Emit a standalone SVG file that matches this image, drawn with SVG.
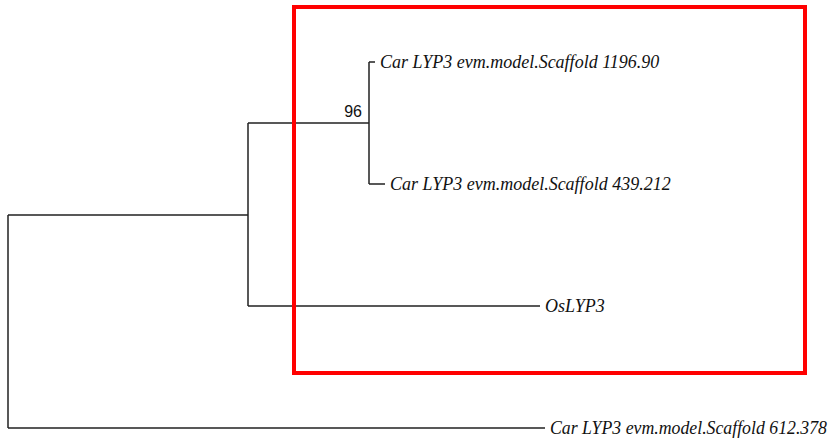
<svg xmlns="http://www.w3.org/2000/svg" width="830" height="440" viewBox="0 0 830 440">
<style>
.br{fill:none;stroke:#222;stroke-width:1.5}
.lf{font-family:"Liberation Serif","Times New Roman",serif;font-style:italic;font-size:18px;fill:#111}
.bs{font-family:"Liberation Sans",Arial,sans-serif;font-size:16px;fill:#111}
</style>
<rect x="0" y="0" width="830" height="440" fill="#fff"/>
<g id="connectors">
<path class="br" d="M8,215 V428 M8,215 H248 M8,428 H545"/>
<path class="br" d="M248,123 V306 M248,123 H369 M248,306 H540"/>
<path class="br" d="M369,62 V184 M369,62 H375 M369,184 H385"/>
</g>
<g id="node-96"><text class="bs" x="362" y="117" text-anchor="end">96</text></g>
<g id="leaf-1196"><text class="lf" x="380" y="68">Car LYP3 evm.model.Scaffold 1196.90</text></g>
<g id="leaf-439"><text class="lf" x="390" y="190">Car LYP3 evm.model.Scaffold 439.212</text></g>
<g id="leaf-os"><text class="lf" x="545" y="312">OsLYP3</text></g>
<g id="leaf-612"><text class="lf" x="550" y="434" textLength="277" lengthAdjust="spacingAndGlyphs">Car LYP3 evm.model.Scaffold 612.378</text></g>
<g id="highlight"><rect x="294" y="7" width="511" height="366" fill="none" stroke="#f00" stroke-width="4"/></g>
</svg>
